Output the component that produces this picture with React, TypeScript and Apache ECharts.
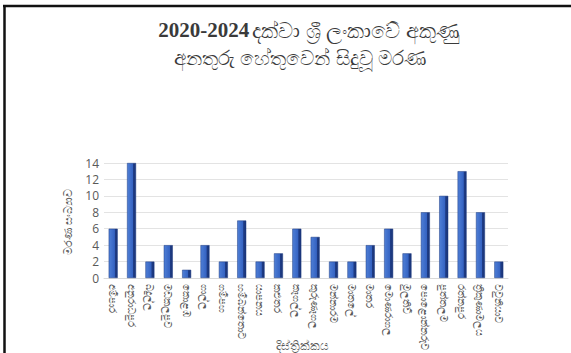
import React, { useEffect, useRef } from "react";
import * as echarts from "echarts";

const districts = [
  "අම්පාර", "අනුරාධපුර", "බදුල්ල", "මඩකලපුව", "කොළඹ", "ගාල්ල", "ගම්පහ", "හම්බන්තොට",
  "යාපනය", "කළුතර", "කෑගල්ල", "කුරුණෑගල", "මන්නාරම", "මාතලේ", "මාතර", "මොණරාගල",
  "මුලතිව්", "පොළොන්නරුව", "පුත්තලම", "රත්නපුර", "ත්‍රිකුණාමලය", "වවුනියාව",
];
const deaths = [6, 14, 2, 4, 1, 4, 2, 7, 2, 3, 6, 5, 2, 2, 4, 6, 3, 8, 10, 13, 8, 2];
const yTicks = [0, 2, 4, 6, 8, 10, 12, 14];
const titleYears = "2020-2024";
const titleLine1 = "දක්වා ශ්‍රී ලංකාවේ අකුණු";
const titleLine2 = "අනතුරු හේතුවෙන් සිදුවූ මරණ";
const yName = "මරණ සංඛ්‍යාව";
const xName = "දිස්ත්‍රික්කය";

export default function App() {
  const ref = useRef<HTMLDivElement>(null);
  useEffect(() => {
    if (!ref.current) return;
    const chart = echarts.init(ref.current, null, { renderer: "svg" });
    chart.setOption({
      animation: false,
      backgroundColor: "#ffffff",
      grid: { left: 104, right: 63, top: 163, bottom: 75, containLabel: false, outerBoundsMode: "none" },
      xAxis: {
        type: "category",
        data: districts,
        axisLine: { show: true, lineStyle: { color: "#d9d9d9" } },
        axisTick: { show: false },
        axisLabel: {
          rotate: -90,
          interval: 0,
          color: "#595959",
          fontSize: 10,
          lineHeight: 10,
          margin: 6,
          fontFamily: "Noto Sans, sans-serif",
        },
      },
      yAxis: {
        type: "value",
        min: yTicks[0],
        max: yTicks[yTicks.length - 1],
        interval: 2,
        axisLine: { show: false },
        axisTick: { show: false },
        splitLine: { lineStyle: { color: "#e3e3e3", width: 1 } },
        axisLabel: {
          color: "#595959",
          fontSize: 12,
          margin: 5,
          fontFamily: "Open Sans, sans-serif",
        },
      },
      series: [
        {
          type: "bar",
          data: deaths,
          barWidth: 9,
          itemStyle: {
            color: new echarts.graphic.LinearGradient(0, 0, 1, 0, [
              { offset: 0, color: "#4f7fd6" },
              { offset: 0.65, color: "#3563c2" },
              { offset: 0.72, color: "#1e3c86" },
              { offset: 1, color: "#1a3477" },
            ]),
            borderColor: "#1d3a80",
            borderWidth: 0.5,
          },
        },
      ],
      graphic: [
        {
          type: "line",
          shape: { x1: 4.5, y1: 5, x2: 4.5, y2: 353 },
          style: { stroke: "#111", lineWidth: 2.5 },
        },
        {
          type: "line",
          shape: { x1: 3, y1: 6, x2: 571, y2: 6 },
          style: { stroke: "#111", lineWidth: 2.5 },
        },
        {
          type: "text",
          x: 309,
          y: 30,
          style: {
            text: "{a|" + titleYears + "} {b|" + titleLine1 + "}",
            align: "center",
            verticalAlign: "middle",
            rich: {
              a: { fill: "#3a3a3a", fontSize: 21, lineHeight: 18, fontWeight: "bold", fontFamily: "'Liberation Serif', serif" },
              b: { fill: "#3a3a3a", fontSize: 21, lineHeight: 18, fontWeight: "normal", fontFamily: "'Noto Sans', sans-serif" },
            },
          },
        },
        {
          type: "text",
          x: 300,
          y: 57,
          style: {
            text: titleLine2,
            fill: "#3a3a3a",
            font: "normal 20px 'Noto Sans', sans-serif",
            lineHeight: 18,
            align: "center",
            verticalAlign: "middle",
          },
        },
        {
          type: "text",
          x: 67,
          y: 222,
          rotation: Math.PI / 2,
          style: {
            text: yName,
            fill: "#595959",
            font: "11px 'Noto Sans', sans-serif",
            lineHeight: 11,
            align: "center",
            verticalAlign: "middle",
          },
        },
        {
          type: "text",
          x: 302,
          y: 345,
          style: {
            text: xName,
            fill: "#595959",
            font: "12px 'Noto Sans', sans-serif",
            lineHeight: 12,
            align: "center",
            verticalAlign: "middle",
          },
        },
      ],
    });
    return () => chart.dispose();
  }, []);
  return <div ref={ref} style={{ width: 571, height: 353, position: "absolute", left: 0, top: 0 }} />;
}
